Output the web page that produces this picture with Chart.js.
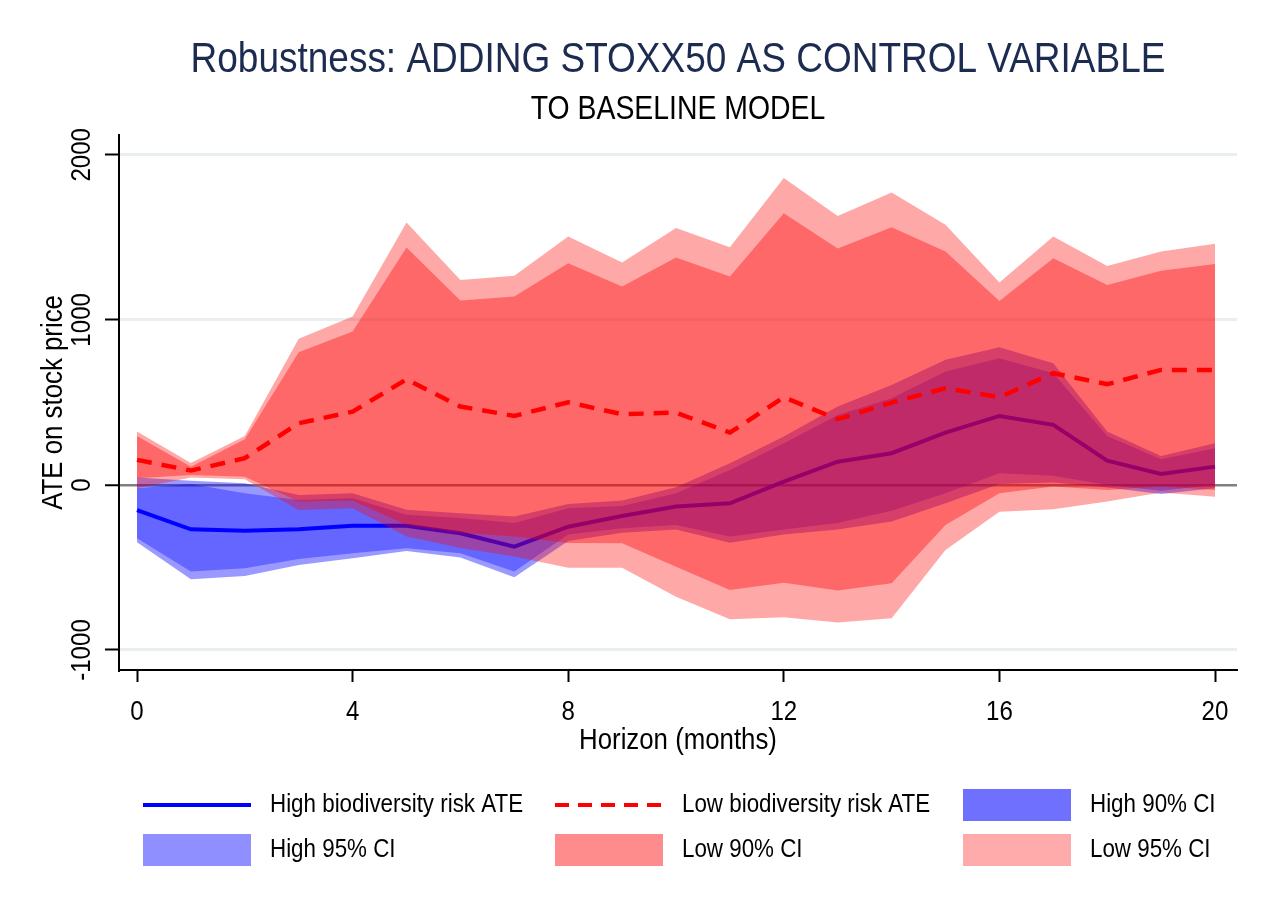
<!DOCTYPE html>
<html>
<head>
<meta charset="utf-8">
<title>Robustness: ADDING STOXX50 AS CONTROL VARIABLE</title>
<script src="https://cdn.jsdelivr.net/npm/chart.js"></script>
<style>
  body { margin: 0; background: #fff; }
  #wrap { width: 1269px; height: 923px; }
</style>
</head>
<body>
<div id="wrap"><canvas id="ateChart" width="1269" height="923"></canvas></div>
<script>
// horizon in months
const horizon = [0, 1, 2, 3, 4, 5, 6, 7, 8, 9, 10, 11, 12, 13, 14, 15, 16, 17, 18, 19, 20];

// low biodiversity risk firms
const lowAte     = [152, 87, 162, 374, 444, 640, 475, 418, 501, 428, 438, 317, 531, 398, 499, 586, 531, 677, 610, 697, 697];
const low90Upper = [297, 110, 277, 804, 929, 1438, 1117, 1141, 1343, 1202, 1378, 1262, 1646, 1432, 1561, 1414, 1115, 1374, 1212, 1297, 1339];
const low90Lower = [40, 60, 50, -100, -95, -242, -290, -313, -352, -354, -495, -636, -592, -640, -596, -242, -50, -10, -30, -10, -30];
const low95Upper = [323, 133, 297, 885, 1020, 1590, 1242, 1267, 1505, 1347, 1556, 1440, 1859, 1630, 1772, 1576, 1226, 1505, 1327, 1414, 1461];
const low95Lower = [-20, 45, 35, -152, -141, -313, -382, -434, -501, -501, -677, -814, -802, -834, -808, -394, -162, -147, -101, -46, -71];

// high biodiversity risk firms
const highAte     = [-152, -269, -277, -269, -248, -248, -293, -374, -253, -188, -131, -111, 20, 141, 192, 317, 418, 364, 147, 67, 111];
const high90Upper = [-20, 5, -50, -91, -80, -180, -200, -230, -141, -127, -50, 91, 253, 424, 525, 687, 768, 677, 297, 156, 222];
const high90Lower = [-323, -525, -505, -448, -414, -384, -414, -525, -300, -262, -242, -313, -270, -230, -156, -50, 71, 55, 0, -35, 0];
const high95Upper = [45, 25, 10, -61, -50, -150, -172, -192, -115, -95, -14, 131, 293, 475, 606, 758, 834, 737, 323, 176, 253];
const high95Lower = [-347, -572, -552, -485, -444, -400, -440, -559, -340, -290, -270, -350, -300, -270, -222, -111, 6, 14, -15, -55, -20];

const xTicks = [0, 4, 8, 12, 16, 20];
const yTicks = [-1000, 0, 1000, 2000];

const legendLabels = ['High biodiversity risk ATE', 'Low biodiversity risk ATE', 'High 90% CI',
                      'High 95% CI', 'Low 90% CI', 'Low 95% CI'];

const FONT = '"Liberation Sans", Arial, sans-serif';
const NARROW = 0.86;   // stata text looks condensed

const BLUE = '#0000ff';
const RED = '#ff0000';
const BLUE90 = 'rgba(0, 0, 255, 0.34)';
const BLUE95 = 'rgba(0, 0, 255, 0.40)';
const RED90 = 'rgba(255, 0, 0, 0.38)';
const RED95 = 'rgba(255, 0, 0, 0.34)';

const canvas = document.getElementById('ateChart');
const ctx = canvas.getContext('2d');

// squeeze every text horizontally around its anchor
const rawFillText = ctx.fillText.bind(ctx);
ctx.fillText = function (text, x, y) {
    this.save();
    this.translate(x, y);
    this.scale(NARROW, 1);
    rawFillText(text, 0, 0);
    this.restore();
};

function pts(values) {
    return values.map((v, i) => ({ x: horizon[i], y: v }));
}

function band(values, color, fillNext) {
    return {
        data: pts(values),
        borderColor: 'transparent',
        borderWidth: 0,
        pointRadius: 0,
        backgroundColor: color,
        fill: fillNext ? '+1' : false
    };
}

// index 0 is drawn on top, last index at the bottom
const datasets = [
    { label: legendLabels[1], data: pts(lowAte), borderColor: RED, borderWidth: 4.5,
      borderDash: [15, 10], pointRadius: 0, fill: false },
    band(low90Upper, RED90, true),
    band(low90Lower, RED90, false),
    band(low95Upper, RED95, true),
    band(low95Lower, RED95, false),
    { label: legendLabels[0], data: pts(highAte), borderColor: BLUE, borderWidth: 4,
      pointRadius: 0, fill: false },
    band(high90Upper, BLUE90, true),
    band(high90Lower, BLUE90, false),
    band(high95Upper, BLUE95, true),
    band(high95Lower, BLUE95, false)
];

// rotated y tick labels, stata style
const yLabelPlugin = {
    id: 'yLabels',
    afterDraw(chart) {
        const c = chart.ctx;
        const scale = chart.scales.y;
        c.save();
        c.fillStyle = '#000';
        c.font = '28px ' + FONT;
        c.textAlign = 'center';
        c.textBaseline = 'middle';
        scale.ticks.forEach(t => {
            const py = scale.getPixelForValue(t.value);
            c.save();
            c.translate(82, py);
            c.rotate(-Math.PI / 2);
            c.fillText(String(t.value), 0, 0);
            c.restore();
        });
        c.restore();
    }
};

// legend in three columns below the axis
const legendPlugin = {
    id: 'gridLegend',
    afterDraw(chart) {
        const c = chart.ctx;
        const items = [
            { type: 'line', color: BLUE },
            { type: 'dash', color: RED },
            { type: 'box', color: 'rgba(0, 0, 255, 0.56)' },
            { type: 'box', color: 'rgba(0, 0, 255, 0.44)' },
            { type: 'box', color: 'rgba(255, 0, 0, 0.45)' },
            { type: 'box', color: 'rgba(255, 0, 0, 0.33)' }
        ];
        const colX = [143, 555, 963];
        const rowY = [805, 850];
        c.save();
        c.font = '26px ' + FONT;
        c.textBaseline = 'middle';
        items.forEach((it, i) => {
            const x = colX[i % 3];
            const y = rowY[Math.floor(i / 3)];
            if (it.type === 'box') {
                c.fillStyle = it.color;
                c.fillRect(x, y - 16, 108, 32);
            } else {
                c.strokeStyle = it.color;
                c.lineWidth = 4;
                c.setLineDash(it.type === 'dash' ? [14, 9] : []);
                c.beginPath();
                c.moveTo(x, y);
                c.lineTo(x + 108, y);
                c.stroke();
                c.setLineDash([]);
            }
            c.fillStyle = '#000';
            c.fillText(legendLabels[i], x + 127, y);
        });
        c.restore();
    }
};

new Chart(canvas, {
    type: 'line',
    data: { datasets: datasets },
    plugins: [yLabelPlugin, legendPlugin],
    options: {
        responsive: false,
        animation: false,
        layout: { padding: { left: 0, right: 32, top: 0, bottom: 153 } },
        plugins: {
            legend: { display: false },
            tooltip: { enabled: false },
            title: {
                display: true,
                text: 'Robustness: ADDING STOXX50 AS CONTROL VARIABLE',
                color: '#1c2b50',
                fullSize: false,
                font: { family: FONT, size: 43, weight: 'normal' },
                padding: { top: 34, bottom: 0 }
            },
            subtitle: {
                display: true,
                text: 'TO BASELINE MODEL',
                color: '#000',
                fullSize: false,
                font: { family: FONT, size: 33 },
                padding: { top: 4.4, bottom: 5.2 }
            }
        },
        scales: {
            x: {
                type: 'linear',
                min: -0.334,
                max: 20.408,
                afterBuildTicks: s => { s.ticks = xTicks.map(v => ({ value: v })); },
                afterFit: s => { s.height = 100; },
                grid: { display: true, drawOnChartArea: false, tickLength: 12, tickColor: '#000', tickWidth: 2 },
                border: { display: true, color: '#000', width: 2 },
                ticks: { color: '#000', font: { family: FONT, size: 28 }, padding: 13, maxRotation: 0 },
                title: { display: true, text: 'Horizon (months)', color: '#000',
                         font: { family: FONT, size: 30 }, padding: { top: 0, bottom: 11 } }
            },
            y: {
                min: -1121.2,
                max: 2121.2,
                afterBuildTicks: s => { s.ticks = yTicks.map(v => ({ value: v })); },
                afterFit: s => { s.width = 119; },
                grid: {
                    color: c => (c.tick && c.tick.value === 0 ? '#808080' : '#e9eef1'),
                    lineWidth: c => (c.tick && c.tick.value === 0 ? 2.5 : 3),
                    tickLength: 14, tickColor: '#000', tickWidth: 2
                },
                border: { display: true, color: '#000', width: 2 },
                ticks: { display: false },
                title: { display: true, text: 'ATE on stock price', color: '#000',
                         font: { family: FONT, size: 30 }, padding: { top: 36, bottom: 0 } }
            }
        }
    }
});
</script>
</body>
</html>
